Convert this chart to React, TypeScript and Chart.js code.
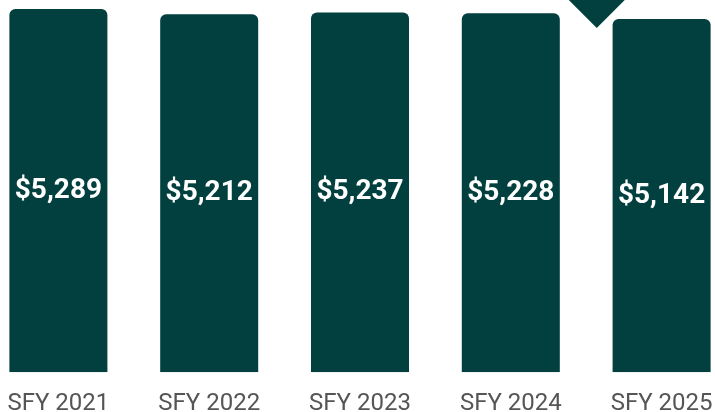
import React, { useEffect, useRef } from "react";
import { Chart, registerables } from "chart.js";

Chart.register(...registerables);

const categories = ["SFY 2021", "SFY 2022", "SFY 2023", "SFY 2024", "SFY 2025"];
const values = [5289, 5212, 5237, 5228, 5142];
const valueLabels = ["$5,289", "$5,212", "$5,237", "$5,228", "$5,142"];
const yMax = 5420;

const BAR_COLOR = "#01403E";

const barLabelPlugin = {
  id: "barLabels",
  afterDatasetsDraw(chart: any) {
    const ctx = chart.ctx;
    const meta = chart.getDatasetMeta(0);
    ctx.save();
    ctx.fillStyle = "#ffffff";
    ctx.font = "bold 28px Roboto";
    ctx.textAlign = "center";
    ctx.textBaseline = "middle";
    meta.data.forEach((bar: any, i: number) => {
      const { x, y, base } = bar.getProps(["x", "y", "base"], true);
      ctx.fillText(valueLabels[i], x, (y + base) / 2);
    });
    ctx.restore();
  },
};

const markerPlugin = {
  id: "marker",
  afterDatasetsDraw(chart: any) {
    const ctx = chart.ctx;
    const xs = chart.scales.x;
    const p3 = xs.getPixelForValue(3);
    const p4 = xs.getPixelForValue(4);
    const cx = p3 + (p4 - p3) * 0.57;
    const top = chart.chartArea.top;
    ctx.save();
    ctx.fillStyle = BAR_COLOR;
    ctx.beginPath();
    ctx.moveTo(cx - 40, top - 12);
    ctx.lineTo(cx + 40, top - 12);
    ctx.lineTo(cx, top + 28);
    ctx.closePath();
    ctx.fill();
    ctx.restore();
  },
};

export default function App() {
  const ref = useRef<HTMLCanvasElement>(null);
  useEffect(() => {
    if (!ref.current) return;
    const chart = new Chart(ref.current, {
      type: "bar",
      data: {
        labels: categories,
        datasets: [
          {
            data: values,
            backgroundColor: BAR_COLOR,
            borderRadius: 6,
            borderSkipped: "start",
            categoryPercentage: 1,
            barPercentage: 0.65,
          },
        ],
      },
      options: {
        responsive: false,
        animation: false,
        layout: { padding: 0 },
        plugins: {
          legend: { display: false },
          tooltip: { enabled: false },
        },
        scales: {
          x: {
            grid: { display: false },
            border: { display: false },
            ticks: {
              color: "#555555",
              font: { family: "Roboto", size: 24 },
              padding: 9,
              maxRotation: 0,
            },
          },
          y: {
            display: false,
            min: 0,
            max: yMax,
          },
        },
      },
      plugins: [barLabelPlugin, markerPlugin],
    });
    return () => chart.destroy();
  }, []);
  return (
    <div
      style={{
        position: "fixed",
        left: 0,
        top: 0,
        width: 715,
        height: 412,
        overflow: "hidden",
        background: "#ffffff",
      }}
    >
      <canvas
        ref={ref}
        width={754}
        height={427}
        style={{ position: "absolute", left: -17, top: 0 }}
      />
    </div>
  );
}
